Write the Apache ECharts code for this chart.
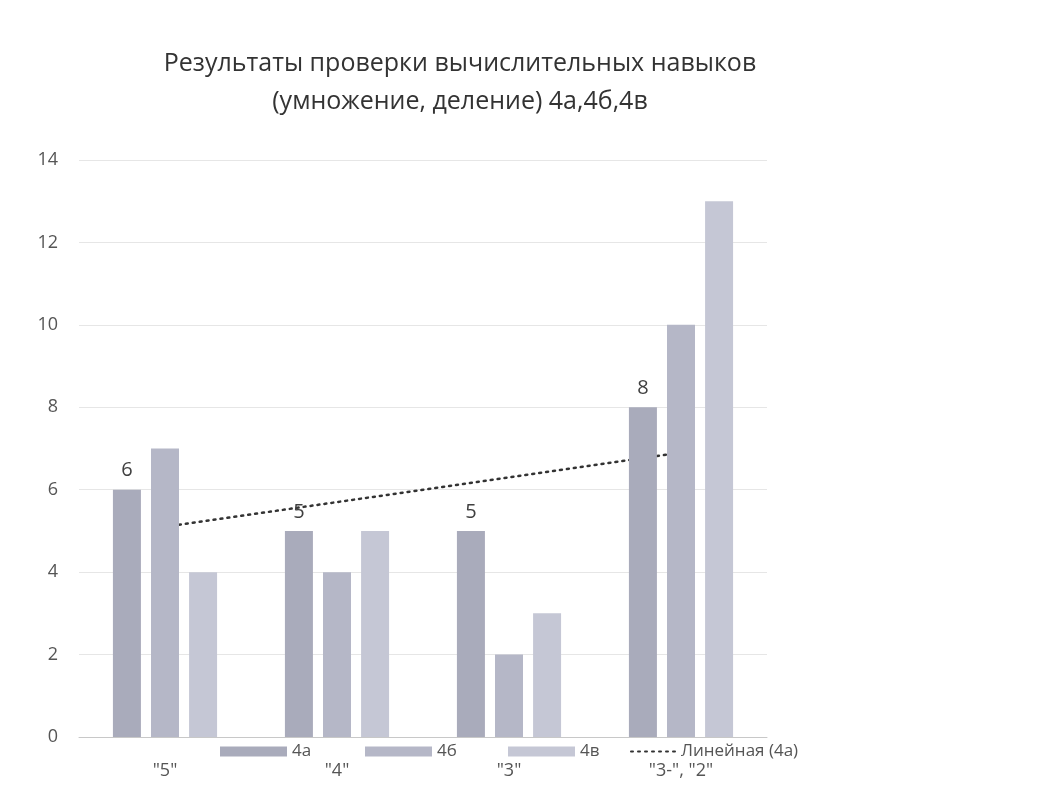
<!DOCTYPE html>
<html lang="ru">
<head>
    <meta charset="UTF-8">
    <title>Результаты проверки вычислительных навыков</title>
    <style>
        html, body { margin: 0; padding: 0; background: #fff; }
        #app { width: 1041px; height: 785px; }
    </style>
    <script src="https://cdn.jsdelivr.net/npm/echarts@6.0.0/dist/echarts.min.js"></script>
</head>
<body>
    <div id="app"></div>
    <script>
        // данные графика
        var categories = ['"5"', '"4"', '"3"', '"3-", "2"']
        var class4a = [6, 5, 5, 8]
        var class4b = [7, 4, 2, 10]
        var class4v = [4, 5, 3, 13]
        var trend4a = [5.1, 5.7, 6.3, 6.9]   // линейная (4а)
        var yTicks = [0, 2, 4, 6, 8, 10, 12, 14]

        var font = '"Open Sans", "Noto Sans", sans-serif'
        var chart = echarts.init(document.getElementById('app'))

        // каждая запись легенды стоит на своём месте, как в оригинале
        function legendAt(name, left, isLine) {
            var l = {
                data: [name], left: left, top: 738, itemWidth: 67, itemHeight: 10, itemGap: 0,
                icon: 'rect',
                textStyle: { fontSize: 17, color: '#555', fontFamily: font }
            }
            if (isLine) {
                delete l.icon
                l.itemWidth = 45
                l.itemStyle = { opacity: 0 }
            }
            return l
        }

        var option = {
            animation: false,
            backgroundColor: '#fff',
            title: {
                text: 'Результаты проверки вычислительных навыков\n(умножение, деление) 4а,4б,4в',
                left: 455, top: 40, textAlign: 'center',
                textStyle: { fontSize: 25, fontWeight: 'normal', color: '#333', fontFamily: font, lineHeight: 38 }
            },
            legend: [
                legendAt('4а', 215),
                legendAt('4б', 360),
                legendAt('4в', 503),
                legendAt('Линейная (4а)', 625, true)
            ],
            grid: { left: 79, right: 274, top: 160, bottom: 48 },
            xAxis: {
                type: 'category',
                data: categories,
                axisTick: { show: false },
                axisLine: { lineStyle: { color: '#c8c8c8' } },
                axisLabel: { margin: 25, fontSize: 18, color: '#555', fontFamily: font }
            },
            yAxis: {
                type: 'value',
                min: yTicks[0], max: yTicks[yTicks.length - 1], interval: 2,
                axisLine: { show: false },
                axisTick: { show: false },
                axisLabel: { margin: 21, fontSize: 18, color: '#555', fontFamily: font },
                splitLine: { lineStyle: { color: '#e6e6e6' } }
            },
            series: [
                {
                    name: '4а', type: 'bar', data: class4a, z: 3,
                    barWidth: 28, barGap: '36%', barCategoryGap: '40%',
                    itemStyle: { color: '#a9abbb' },
                    label: { show: true, position: 'top', distance: 9, fontSize: 20, color: '#404040', fontFamily: font }
                },
                {
                    name: '4б', type: 'bar', data: class4b, z: 3,
                    barWidth: 28, barGap: '36%',
                    itemStyle: { color: '#b5b7c7' }
                },
                {
                    name: '4в', type: 'bar', data: class4v, z: 3,
                    barWidth: 28, barGap: '36%',
                    itemStyle: { color: '#c5c7d5' }
                },
                {
                    name: 'Линейная (4а)', type: 'line', data: trend4a, z: 1,
                    symbol: 'none',
                    itemStyle: { color: '#333' },
                    lineStyle: { color: '#333', width: 2.5, type: [2, 5], cap: 'round' }
                }
            ]
        }
        chart.setOption(option)
    </script>
</body>
</html>
